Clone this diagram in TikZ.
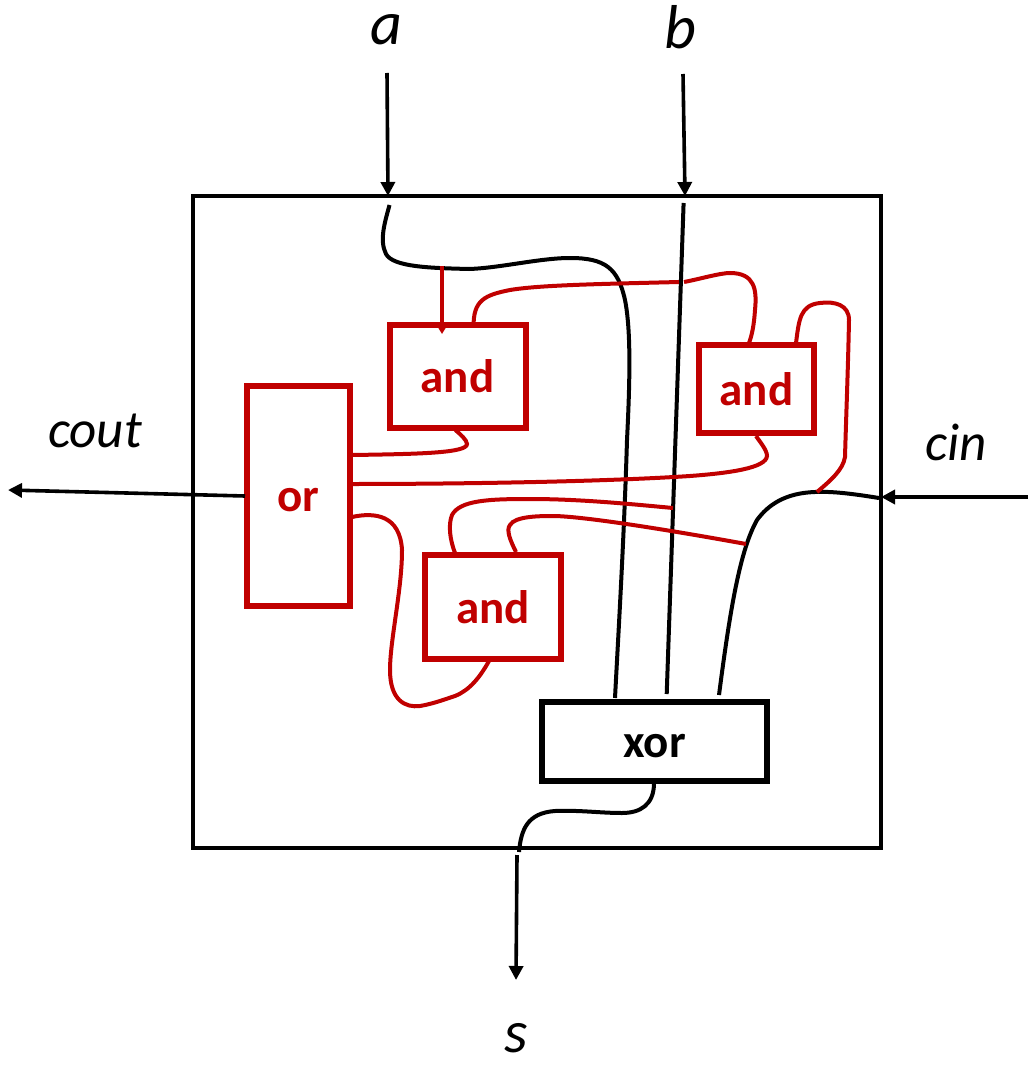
\documentclass[tikz,border=0pt]{standalone}
\usepackage{fontspec}
\setmainfont{Carlito}
\usetikzlibrary{arrows.meta}
\definecolor{gred}{RGB}{192,0,0}
\tikzset{
  gate/.style={draw,line width=6pt,rectangle,inner sep=0pt,outer sep=0pt,font=\fontsize{47}{47}\selectfont\bfseries},
  redgate/.style={gate,draw=gred,text=gred},
  blackgate/.style={gate,draw=black,text=black},
  wire/.style={line width=4pt},
  bwire/.style={wire,draw=black},
  rwire/.style={wire,draw=gred},
  ext/.style={line width=3.6pt,draw=black,-{Triangle[length=14pt,width=14pt]}},
  sig/.style={font=\fontsize{62}{62}\selectfont\itshape,inner sep=0pt},
  sigs/.style={font=\fontsize{53}{53}\selectfont\itshape,inner sep=0pt},
}
\begin{document}
\begin{tikzpicture}[x=1pt,y=-1pt]
\useasboundingbox (0,0) rectangle (1028,1067);
% outer box
\node[draw,line width=4pt,minimum width=688pt,minimum height=652pt,inner sep=0pt,outer sep=0pt] (outer) at (537,522) {};
% gates
\node[redgate,minimum width=136pt,minimum height=103pt] (and1) at (457.5,376.5) {and};
\node[redgate,minimum width=115pt,minimum height=88pt] (and2) at (756.5,389) {and};
\node[redgate,minimum width=136.5pt,minimum height=104pt] (and3) at (493,607) {and};
\node[redgate,minimum width=103pt,minimum height=220pt] (or) at (298.5,496) {\raisebox{-15pt}[0pt][0pt]{or}};
\node[blackgate,minimum width=225pt,minimum height=79pt] (xor) at (654.5,741.5) {\raisebox{-15.5pt}[0pt][0pt]{xor}};
% signal labels
\node[sig] (la) at (386,30) {a};
\node[sig] (lb) at (680,27) {b};
\node[sigs] (lcout) at (95,431) {cout};
\node[sigs] (lcin) at (956,442) {cin};
\node[sig,font=\fontsize{60}{60}\selectfont\itshape] (ls) at (516,1038) {s};
% free ends
\coordinate (aT) at (387,73);
\coordinate (aB) at (388,196);
\coordinate (bT) at (683,74);
\coordinate (bB) at (685,196);
\coordinate (cinR) at (1028,497);
\coordinate (cinL) at (881,497);
\coordinate (coutL) at (8,490);
\coordinate (coutR) at (245,496);
\coordinate (sT) at (517,855);
\coordinate (sB) at (516,980);
\draw[ext] (aT) -- (aB);
\draw[ext] (bT) -- (bB);
\draw[ext] (cinR) -- (cinL);
\draw[ext] (coutR) -- (coutL);
\draw[ext] (sT) -- (sB);
% black wires
\coordinate (aS) at (389.5,205);
\coordinate (xa) at (615,698);
\coordinate (bS) at (683.6,203);
\coordinate (xb) at (666.7,694);
\coordinate (xc) at (719,695);
\coordinate (cinS) at (879,498);
\coordinate (xo) at (654,783);
\coordinate (sS) at (519,852);
\draw[bwire] (aS) .. controls (385,222) and (379,240) .. (386,254) .. controls (393,267) and (430,268) .. (469,269) .. controls (500,268) and (540,258) .. (570,258) .. controls (605,258) and (618,268) .. (625,300) .. controls (631,330) and (630,380) .. (627,440) .. controls (624,540) and (618,640) .. (xa);
\draw[bwire] (bS) -- (xb);
\draw[bwire] (cinS) .. controls (860,495) and (835,491) .. (815,492) .. controls (785,493) and (768,505) .. (757,520) .. controls (740,550) and (730,610) .. (xc);
\draw[bwire] (xo) .. controls (654,805) and (640,813) .. (622,813) .. controls (600,813) and (580,810) .. (555,811) .. controls (527,813) and (521,830) .. (sS);
% red wires
\coordinate (t1) at (442,266);
\coordinate (h1) at (442,334);
\draw[line width=3.4pt,draw=gred,-{Triangle[length=7pt,width=8pt]}] (t1) -- (h1);
\coordinate (a1i) at (473.6,327);
\coordinate (b1L) at (679,282);
\coordinate (b1R) at (684,282);
\coordinate (a2l) at (749,343);
\coordinate (a2r) at (796,343);
\coordinate (cintap) at (817,492);
\draw[rwire] (a1i) .. controls (473,300) and (485,295) .. (510,290) .. controls (540,285) and (600,284) .. (b1L);
\draw[rwire] (b1R) .. controls (700,279) and (720,273) .. (730,273) .. controls (755,273) and (757,290) .. (755,310) .. controls (754,325) and (752,335) .. (a2l);
\draw[rwire] (a2r) .. controls (799,320) and (800,305) .. (820,303) .. controls (835,301) and (849,305) .. (849,320) .. controls (848,370) and (846,420) .. (845,457) .. controls (843,470) and (830,481) .. (cintap);
\coordinate (a1o) at (455.4,430);
\coordinate (or1) at (352,455);
\coordinate (a2o) at (756,436);
\coordinate (or2) at (352,484);
\coordinate (or3) at (352,517);
\coordinate (a3o) at (489,661);
\draw[rwire] (a1o) .. controls (460,434) and (467,440) .. (467,444) .. controls (467,453) and (420,454) .. (or1);
\draw[rwire] (a2o) .. controls (760,442) and (767,450) .. (767,456) .. controls (766,468) and (730,473) .. (690,476) .. controls (600,482) and (450,484) .. (or2);
\draw[rwire] (or3) .. controls (375,512) and (400,515) .. (402,550) .. controls (402,590) and (390,640) .. (390,670) .. controls (390,700) and (405,708) .. (420,706) .. controls (432,704) and (443,700) .. (455,696) .. controls (470,690) and (480,677) .. (a3o);
\coordinate (a3l) at (455,553);
\coordinate (a3r) at (516,552);
\coordinate (b3) at (673,508);
\coordinate (c3) at (746,544);
\draw[rwire] (a3l) .. controls (450,540) and (448,525) .. (452,515) .. controls (460,500) and (490,499) .. (530,499) .. controls (580,499) and (630,504) .. (b3);
\draw[rwire] (a3r) .. controls (510,540) and (506,530) .. (510,525) .. controls (515,516) and (540,516) .. (555,516) .. controls (590,517) and (680,532) .. (c3);
\end{tikzpicture}
\end{document}
